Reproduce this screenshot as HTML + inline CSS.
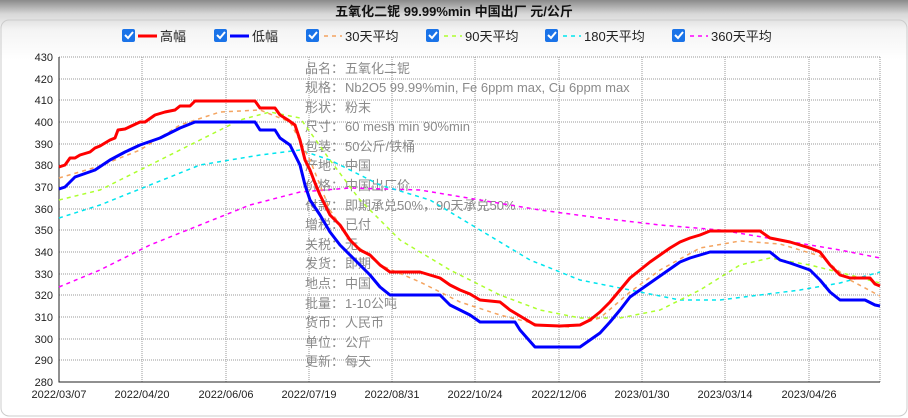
<!DOCTYPE html><html><head><meta charset="utf-8"><style>
body{margin:0;width:908px;height:418px;overflow:hidden;background:linear-gradient(#8a8a8a 0,#d8d8d8 14px,#f4f4f4 30px,#fff 60px);font-family:"Liberation Sans","Noto Sans CJK SC",sans-serif}
</style></head><body>
<svg width="908" height="418" xmlns="http://www.w3.org/2000/svg" style="position:absolute;left:0;top:0;font-family:'Liberation Sans','Noto Sans CJK SC',sans-serif">
<rect x="1" y="20" width="906" height="396" rx="8" fill="none" stroke="#ccc"/>
<text x="454" y="16" text-anchor="middle" font-size="13" font-weight="bold" fill="#111">五氧化二铌 99.99%min 中国出厂 元/公斤</text>
<g font-size="13" fill="#222">
<rect x="122" y="29" width="13" height="13" rx="2" fill="#1a73e8"/><path d="M125 35l3 3 5-6" stroke="#fff" stroke-width="2" fill="none"/>
<line x1="138" y1="36" x2="157" y2="36" stroke="#f00" stroke-width="3"/><text x="160" y="41">高幅</text>
<rect x="214" y="29" width="13" height="13" rx="2" fill="#1a73e8"/><path d="M217 35l3 3 5-6" stroke="#fff" stroke-width="2" fill="none"/>
<line x1="230" y1="36" x2="249" y2="36" stroke="#00f" stroke-width="3"/><text x="252" y="41">低幅</text>
<rect x="306" y="29" width="13" height="13" rx="2" fill="#1a73e8"/><path d="M309 35l3 3 5-6" stroke="#fff" stroke-width="2" fill="none"/>
<line x1="324" y1="36" x2="342" y2="36" stroke="#f4a460" stroke-width="1.5" stroke-dasharray="4,4"/><text x="345" y="41">30天平均</text>
<rect x="426" y="29" width="13" height="13" rx="2" fill="#1a73e8"/><path d="M429 35l3 3 5-6" stroke="#fff" stroke-width="2" fill="none"/>
<line x1="444" y1="36" x2="462" y2="36" stroke="#adff2f" stroke-width="1.5" stroke-dasharray="4,4"/><text x="465" y="41">90天平均</text>
<rect x="545" y="29" width="13" height="13" rx="2" fill="#1a73e8"/><path d="M548 35l3 3 5-6" stroke="#fff" stroke-width="2" fill="none"/>
<line x1="563" y1="36" x2="581" y2="36" stroke="#00e5ee" stroke-width="1.5" stroke-dasharray="4,4"/><text x="584" y="41">180天平均</text>
<rect x="672" y="29" width="13" height="13" rx="2" fill="#1a73e8"/><path d="M675 35l3 3 5-6" stroke="#fff" stroke-width="2" fill="none"/>
<line x1="690" y1="36" x2="708" y2="36" stroke="#f0f" stroke-width="1.5" stroke-dasharray="4,4"/><text x="711" y="41">360天平均</text>
</g>
<g stroke="#999" stroke-dasharray="1,1" stroke-width="1">
<line x1="59" y1="57" x2="880" y2="57"/><line x1="59" y1="79" x2="880" y2="79"/><line x1="59" y1="100" x2="880" y2="100"/><line x1="59" y1="122" x2="880" y2="122"/><line x1="59" y1="144" x2="880" y2="144"/><line x1="59" y1="165" x2="880" y2="165"/><line x1="59" y1="187" x2="880" y2="187"/><line x1="59" y1="209" x2="880" y2="209"/><line x1="59" y1="230" x2="880" y2="230"/><line x1="59" y1="252" x2="880" y2="252"/><line x1="59" y1="274" x2="880" y2="274"/><line x1="59" y1="295" x2="880" y2="295"/><line x1="59" y1="317" x2="880" y2="317"/><line x1="59" y1="339" x2="880" y2="339"/><line x1="59" y1="360" x2="880" y2="360"/>
<line x1="142" y1="57" x2="142" y2="382"/><line x1="226" y1="57" x2="226" y2="382"/><line x1="309" y1="57" x2="309" y2="382"/><line x1="392" y1="57" x2="392" y2="382"/><line x1="475" y1="57" x2="475" y2="382"/><line x1="559" y1="57" x2="559" y2="382"/><line x1="642" y1="57" x2="642" y2="382"/><line x1="725" y1="57" x2="725" y2="382"/><line x1="809" y1="57" x2="809" y2="382"/><line x1="880" y1="57" x2="880" y2="382"/>
</g>
<path d="M59 57V382H880" stroke="#222" fill="none"/>
<g font-size="11" fill="#222" text-anchor="end">
<text x="53" y="61">430</text><text x="53" y="83">420</text><text x="53" y="104">410</text><text x="53" y="126">400</text><text x="53" y="148">390</text><text x="53" y="169">380</text><text x="53" y="191">370</text><text x="53" y="213">360</text><text x="53" y="234">350</text><text x="53" y="256">340</text><text x="53" y="278">330</text><text x="53" y="299">320</text><text x="53" y="321">310</text><text x="53" y="343">300</text><text x="53" y="364">290</text><text x="53" y="386">280</text>
</g>
<g font-size="11" fill="#222" text-anchor="middle">
<text x="59" y="398">2022/03/07</text><text x="142" y="398">2022/04/20</text><text x="226" y="398">2022/06/06</text><text x="309" y="398">2022/07/19</text><text x="392" y="398">2022/08/31</text><text x="475" y="398">2022/10/24</text><text x="559" y="398">2022/12/06</text><text x="642" y="398">2023/01/30</text><text x="725" y="398">2023/03/14</text><text x="809" y="398">2023/04/26</text>
</g>
<g font-size="13" fill="#8a8a8a">
<text x="305" y="73">品名：</text><text x="345" y="73">五氧化二铌</text>
<text x="305" y="92">规格：</text><text x="345" y="92">Nb2O5 99.99%min, Fe 6ppm max, Cu 6ppm max</text>
<text x="305" y="112">形状：</text><text x="345" y="112">粉末</text>
<text x="305" y="131">尺寸：</text><text x="345" y="131">60 mesh min 90%min</text>
<text x="305" y="151">包装：</text><text x="345" y="151">50公斤/铁桶</text>
<text x="305" y="170">产地：</text><text x="345" y="170">中国</text>
<text x="305" y="190">价格：</text><text x="345" y="190">中国出厂价</text>
<text x="305" y="210">付款：</text><text x="345" y="210">即期承兑50%，90天承兑50%</text>
<text x="305" y="229">增税：</text><text x="345" y="229">已付</text>
<text x="305" y="249">关税：</text><text x="345" y="249">无</text>
<text x="305" y="268">发货：</text><text x="345" y="268">即期</text>
<text x="305" y="288">地点：</text><text x="345" y="288">中国</text>
<text x="305" y="308">批量：</text><text x="345" y="308">1-10公吨</text>
<text x="305" y="327">货币：</text><text x="345" y="327">人民币</text>
<text x="305" y="347">单位：</text><text x="345" y="347">公斤</text>
<text x="305" y="366">更新：</text><text x="345" y="366">每天</text>
</g>
<g fill="none" stroke-width="1.5" stroke-dasharray="4,4">
<polyline stroke="#f0f" points="59,287 100,270 150,245 200,225 250,205 300,192 350,188 420,190 480,200 540,210 600,218 660,225 720,230 780,240 840,250 880,258"/>
<polyline stroke="#00e5ee" points="59,218 100,205 150,185 200,165 260,155 300,150 330,160 380,185 430,200 480,230 530,260 580,280 630,290 680,300 720,300 760,295 800,290 840,283 880,272"/>
<polyline stroke="#adff2f" points="59,200 100,190 150,165 200,140 240,120 270,112 300,118 330,160 360,200 400,240 450,270 500,295 540,310 580,318 620,318 660,310 700,290 740,265 770,258 810,265 850,275 880,283"/>
<polyline stroke="#f4a460" points="59,178 100,166 140,150 180,125 220,112 260,110 290,122 310,160 330,210 350,240 380,265 420,282 460,302 500,315 540,325 570,327 600,318 630,292 660,270 700,248 740,241 780,244 820,256 850,280 880,296"/>
</g>
<g fill="none" stroke-width="3" stroke-linejoin="round">
<polyline stroke="#f00" points="59,167 65,165 70,158 75,158 80,155 90,152 95,148 100,146 110,140 115,138 118,130 125,129 140,122 145,122 155,115 165,112 175,110 180,106 190,106 195,101 255,101 260,108 275,108 280,115 288,120 295,125 300,140 305,160 310,170 315,183 320,195 325,205 330,215 340,225 350,240 360,250 370,255 380,265 390,272 420,272 440,278 450,285 460,290 470,294 480,300 500,302 510,310 520,316 535,325 560,326 580,325 590,320 600,312 610,302 620,290 630,278 640,270 650,262 660,255 670,248 680,242 690,238 700,235 710,231 760,231 770,238 790,242 810,248 820,252 830,265 840,275 850,278 870,278 875,284 880,286"/>
<polyline stroke="#00f" points="59,189 65,187 75,177 95,170 110,160 125,152 140,145 160,138 180,128 195,122 255,122 260,130 275,130 280,138 290,145 300,165 305,185 310,200 320,215 330,232 340,245 350,255 360,265 370,275 380,287 390,295 440,295 450,305 460,310 470,315 480,322 515,322 520,330 535,347 580,347 590,340 600,333 610,322 620,310 630,297 640,290 650,283 660,276 670,269 680,262 690,258 700,255 710,252 770,252 780,260 790,263 810,270 820,280 830,292 840,300 865,300 875,305 880,306"/>
</g>
</svg>
</body></html>
